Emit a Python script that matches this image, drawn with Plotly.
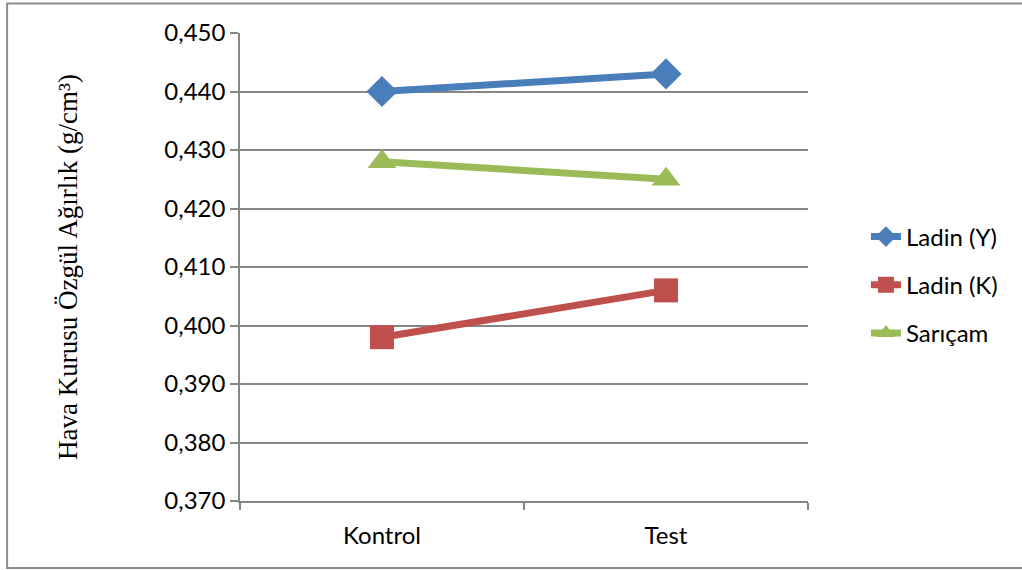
import plotly.graph_objects as go

categories = ["Kontrol", "Test"]
ladin_y = [0.440, 0.443]
ladin_k = [0.398, 0.406]
saricam = [0.428, 0.425]
y_ticks = [0.370, 0.380, 0.390, 0.400, 0.410, 0.420, 0.430, 0.440, 0.450]

series = [
    ("Ladin (Y)", ladin_y, "#4A7EBB", "diamond", 24),
    ("Ladin (K)", ladin_k, "#C0504D", "square", 24),
    ("Sarıçam", saricam, "#9BBB59", "triangle-up", 25),
]

fig = go.Figure()
for name, vals, color, symbol, size in series:
    fig.add_trace(go.Scatter(
        x=categories, y=vals, name=name, legendgroup=name,
        mode="lines+markers",
        line=dict(color=color, width=7),
        marker=dict(symbol=symbol, size=size, color=color,
                    line=dict(width=0)),
    ))

fig.update_layout(
    width=1022, height=570,
    margin=dict(l=240, r=214, t=33, b=69),
    paper_bgcolor="white", plot_bgcolor="white",
    separators=",.",
    font=dict(family="Lato, Calibri, sans-serif", size=24, color="black"),
    showlegend=True,
    legend=dict(x=1.102, y=0.4615, xanchor="left", yanchor="middle",
                font=dict(size=24), tracegroupgap=14, itemwidth=30),
    shapes=[dict(type="rect", xref="paper", yref="paper",
                 x0=-0.41, x1=1.45, y0=-0.143, y1=1.063,
                 line=dict(color="#8C8C8C", width=2), layer="below")],
)
fig.update_xaxes(
    type="category", range=[-0.5, 1.5],
    showline=True, linecolor="#868686", linewidth=1.5,
    ticks="outside", ticklen=7, tickcolor="#868686", tickwidth=1.5,
    tickson="boundaries", showgrid=False, zeroline=False,
    tickfont=dict(size=24), ticklabelstandoff=12,
)
fig.update_yaxes(
    range=[0.370, 0.450], tickvals=y_ticks, tickformat=".3f",
    showline=True, linecolor="#868686", linewidth=1.5,
    ticks="outside", ticklen=8, tickcolor="#868686", tickwidth=1.5,
    showgrid=True, gridcolor="#868686", gridwidth=1.5, zeroline=False,
    tickfont=dict(size=24),
    title=dict(text="Hava Kurusu Özgül Ağırlık (g/cm³)", standoff=79,
               font=dict(family="Liberation Serif, Times New Roman, serif", size=27)),
)

fig.write_html("out.html")
